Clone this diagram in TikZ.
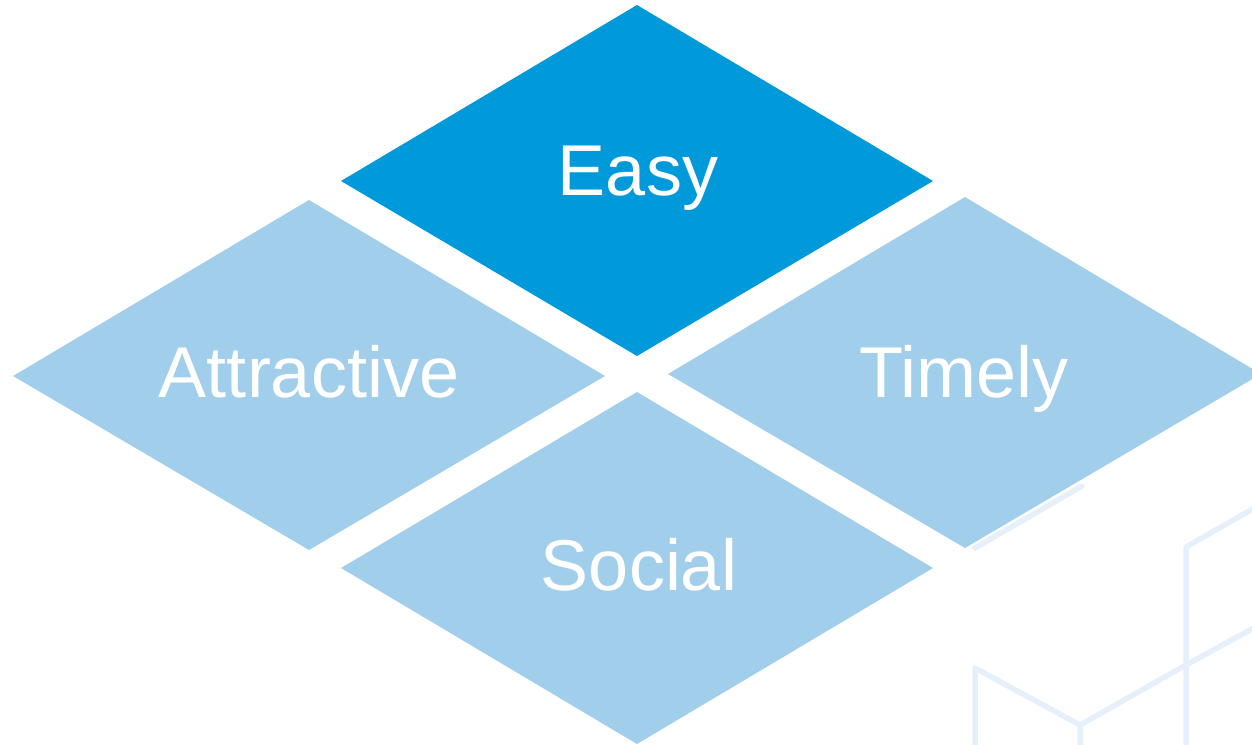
\documentclass[tikz,border=0pt]{standalone}
\usepackage{fontspec}
\setmainfont{Liberation Sans}
\definecolor{darkblue}{RGB}{0,153,218}
\definecolor{lightblue}{RGB}{161,207,235}
\definecolor{faintblue}{RGB}{230,240,250}
\begin{document}
\begin{tikzpicture}[x=1pt,y=-1pt,
  bgline/.style={draw=faintblue,line width=5.5pt,line cap=round,line join=round},
  lbl/.style={text=white,font=\fontsize{72}{86}\selectfont,anchor=base,inner sep=0pt}]
\useasboundingbox (0,0) rectangle (1252,744);
\clip (0,0) rectangle (1252,744);
% faint background lines
\draw[bgline] (975,548) -- (1082,486);
\draw[bgline] (1186,760) -- (1186,547) -- (1270,499);
\draw[bgline] (1270,619) -- (1186,665) -- (1080,725) -- (1080,760);
\draw[bgline] (1080,725) -- (975,668) -- (975,760);
% diamonds
\fill[darkblue] (637,5) -- (933,181) -- (637,356) -- (341,181) -- cycle;
\fill[lightblue] (309,200) -- (605,376) -- (309,550) -- (13,376) -- cycle;
\fill[lightblue] (965,197) -- (1261,374) -- (965,548) -- (668,374) -- cycle;
\fill[lightblue] (637,392) -- (933,568) -- (637,744) -- (341,568) -- cycle;
% labels
\node[lbl] (easy) at (638,195) {Easy};
\node[lbl] (attr) at (309,397) {Attractive};
\node[lbl] (timely) at (964,397) {Timely};
\node[lbl] (social) at (639,590) {Social};
\end{tikzpicture}
\end{document}
